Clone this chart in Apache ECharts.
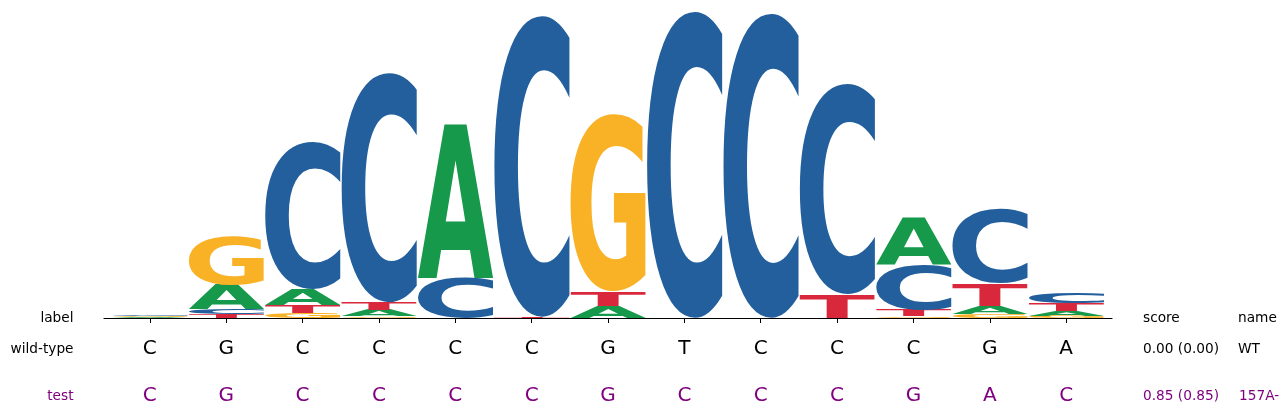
<!DOCTYPE html>
<html>
<head>
<meta charset="utf-8">
<script src="https://cdn.jsdelivr.net/npm/echarts@6/dist/echarts.min.js"></script>
<style>
  html, body { margin: 0; padding: 0; background: #fff; }
  #chart { width: 1288px; height: 415px; }
</style>
</head>
<body>
<div id="chart"></div>
<script>
// logo data (bits) per position, one array per base
const positions = [1, 2, 3, 4, 5, 6, 7, 8, 9, 10, 11, 12, 13];
const heightA = [0.004, 0.156, 0.104, 0.039, 0.994, 0, 0.075, 0, 0, 0, 0.305, 0.052, 0.032];
const heightC = [0.008, 0.030, 0.961, 1.494, 0.260, 1.961, 0, 1.994, 1.981, 1.370, 0.292, 0.487, 0.071];
const heightG = [0.006, 0.312, 0.032, 0.010, 0, 0, 1.149, 0, 0, 0, 0.010, 0.026, 0.013];
const heightT = [0.002, 0.028, 0.050, 0.052, 0, 0.006, 0.094, 0, 0, 0.154, 0.042, 0.143, 0.052];

const seqWT = ['C', 'G', 'C', 'C', 'C', 'C', 'G', 'T', 'C', 'C', 'C', 'G', 'A'];
const seqTest = ['C', 'G', 'C', 'C', 'C', 'C', 'G', 'C', 'C', 'C', 'G', 'A', 'C'];

const rowLabels = ['label', 'wild-type', 'test'];
const scoreCol = ['score', '0.00 (0.00)', '0.85 (0.85)'];
const nameCol = ['name', 'WT', '157A-'];

const letters = ['A', 'C', 'G', 'T'];
const colors = { A: '#16994a', C: '#225f9c', G: '#f9b226', T: '#d9283c' };
const PURPLE = '#800080';
const GLYPH_FONT = 'bold 200px "DejaVu Sans"';
const glyphWidth = 0.99;

// ink box of each glyph, so a letter can be stretched to fill its cell
const metrics = {};
(function () {
  const ctx = document.createElement('canvas').getContext('2d');
  ctx.font = GLYPH_FONT;
  ctx.textAlign = 'center';
  ctx.textBaseline = 'middle';
  letters.forEach(ch => {
    const m = ctx.measureText(ch);
    metrics[ch] = {
      L: m.actualBoundingBoxLeft, R: m.actualBoundingBoxRight,
      A: m.actualBoundingBoxAscent, D: m.actualBoundingBoxDescent
    };
  });
})();

// stack letters smallest at the bottom
const glyphData = [];
const byBase = { A: heightA, C: heightC, G: heightG, T: heightT };
positions.forEach((p, i) => {
  const stack = letters.map((ch, k) => ({ k, h: byBase[ch][i] }))
    .filter(d => d.h > 0)
    .sort((a, b) => a.h - b.h);
  let base = 0;
  stack.forEach(d => {
    glyphData.push([p, base, base + d.h, d.k]);
    base += d.h;
  });
});

const rowY = [318, 349, 396];

function renderGlyph(params, api) {
  const pos = api.value(0), y0 = api.value(1), y1 = api.value(2);
  const ch = letters[api.value(3)];
  const tl = api.coord([pos - glyphWidth / 2, y1]);
  const br = api.coord([pos + glyphWidth / 2, y0]);
  const w = br[0] - tl[0], h = br[1] - tl[1];
  if (h <= 0) return null;
  const m = metrics[ch];
  const sx = w / (m.L + m.R), sy = h / (m.A + m.D);
  return {
    type: 'text',
    x: tl[0] + m.L * sx,
    y: tl[1] + m.A * sy,
    scaleX: sx,
    scaleY: sy,
    style: { text: ch, font: GLYPH_FONT, fill: colors[ch], align: 'center', verticalAlign: 'middle' }
  };
}

function renderSeq(params, api) {
  const pos = api.value(0), row = api.value(1);
  const seq = row === 1 ? seqWT : seqTest;
  const x = api.coord([pos, 0])[0];
  return {
    type: 'text',
    style: {
      text: seq[pos - 1], x: x, y: rowY[row],
      font: '20px "DejaVu Sans"', fill: row === 1 ? '#000' : PURPLE,
      align: 'center', verticalAlign: 'middle'
    }
  };
}

const seqData = [];
positions.forEach(p => { seqData.push([p, 1]); seqData.push([p, 2]); });

const graphics = [];
rowLabels.forEach((t, r) => {
  const fill = r === 2 ? PURPLE : '#000';
  graphics.push({ type: 'text', style: { text: t, x: 73.5, y: rowY[r], font: '13.7px "DejaVu Sans"',
    fill, align: 'right', verticalAlign: 'middle' } });
  graphics.push({ type: 'text', style: { text: scoreCol[r], x: 1143, y: rowY[r], font: '13.7px "DejaVu Sans"',
    fill, align: 'left', verticalAlign: 'middle' } });
  graphics.push({ type: 'text', style: { text: nameCol[r], x: r === 2 ? 1239 : 1238, y: rowY[r], font: '13.7px "DejaVu Sans"',
    fill, align: 'left', verticalAlign: 'middle' } });
});

const chart = echarts.init(document.getElementById('chart'), null, { renderer: 'canvas' });
chart.setOption({
  animation: false,
  backgroundColor: '#fff',
  grid: { left: 104, right: 176, top: 10, bottom: 97 },
  xAxis: {
    type: 'value', min: 0.4, max: 13.6,
    axisLine: { show: true, onZero: false, lineStyle: { color: '#000', width: 1.2 } },
    axisTick: { show: true, customValues: positions, length: 5, lineStyle: { color: '#000', width: 1 } },
    axisLabel: { show: false },
    splitLine: { show: false }
  },
  yAxis: { type: 'value', min: 0, max: 2, show: false },
  graphic: graphics,
  series: [
    { type: 'custom', name: 'logo', renderItem: renderGlyph, data: glyphData, encode: { x: 0, y: [1, 2] }, z: 1 },
    { type: 'custom', name: 'seq', renderItem: renderSeq, data: seqData, encode: { x: 0 }, z: 3 }
  ]
});
</script>
</body>
</html>
